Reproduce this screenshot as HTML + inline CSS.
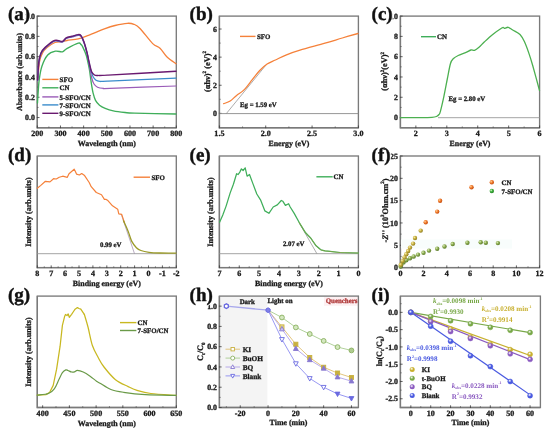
<!DOCTYPE html><html><head><meta charset="utf-8"><style>html,body{margin:0;padding:0;background:#fff;}svg{display:block;will-change:transform;filter:blur(0.25px);}text{text-rendering:geometricPrecision;}</style></head><body>
<svg width="550" height="433" viewBox="0 0 550 433" font-family='"Liberation Serif", serif'>
<rect width="550" height="433" fill="#fff"/>
<rect x="37.3" y="16.1" width="139" height="111.6" fill="none" stroke="#7a7a7a" stroke-width="1.35"/>
<path d="M37.3,16.1 L37.3,127.7 L176.3,127.7" fill="none" stroke="#7a7a7a" stroke-width="1.35"/>
<line x1="37.3" y1="125.5" x2="37.3" y2="128.2" stroke="#3a3a3a" stroke-width="0.8"/>
<text x="37.3" y="136.4" font-size="8.1" text-anchor="middle" fill="#1a1a1a" font-weight="bold" stroke="#1a1a1a" stroke-width="0.3">200</text>
<line x1="60.47" y1="125.5" x2="60.47" y2="128.2" stroke="#3a3a3a" stroke-width="0.8"/>
<text x="60.47" y="136.4" font-size="8.1" text-anchor="middle" fill="#1a1a1a" font-weight="bold" stroke="#1a1a1a" stroke-width="0.3">300</text>
<line x1="83.63" y1="125.5" x2="83.63" y2="128.2" stroke="#3a3a3a" stroke-width="0.8"/>
<text x="83.63" y="136.4" font-size="8.1" text-anchor="middle" fill="#1a1a1a" font-weight="bold" stroke="#1a1a1a" stroke-width="0.3">400</text>
<line x1="106.8" y1="125.5" x2="106.8" y2="128.2" stroke="#3a3a3a" stroke-width="0.8"/>
<text x="106.8" y="136.4" font-size="8.1" text-anchor="middle" fill="#1a1a1a" font-weight="bold" stroke="#1a1a1a" stroke-width="0.3">500</text>
<line x1="129.97" y1="125.5" x2="129.97" y2="128.2" stroke="#3a3a3a" stroke-width="0.8"/>
<text x="129.97" y="136.4" font-size="8.1" text-anchor="middle" fill="#1a1a1a" font-weight="bold" stroke="#1a1a1a" stroke-width="0.3">600</text>
<line x1="153.13" y1="125.5" x2="153.13" y2="128.2" stroke="#3a3a3a" stroke-width="0.8"/>
<text x="153.13" y="136.4" font-size="8.1" text-anchor="middle" fill="#1a1a1a" font-weight="bold" stroke="#1a1a1a" stroke-width="0.3">700</text>
<line x1="176.3" y1="125.5" x2="176.3" y2="128.2" stroke="#3a3a3a" stroke-width="0.8"/>
<text x="176.3" y="136.4" font-size="8.1" text-anchor="middle" fill="#1a1a1a" font-weight="bold" stroke="#1a1a1a" stroke-width="0.3">800</text>
<line x1="48.88" y1="126.4" x2="48.88" y2="127.7" stroke="#3a3a3a" stroke-width="0.6"/>
<line x1="72.05" y1="126.4" x2="72.05" y2="127.7" stroke="#3a3a3a" stroke-width="0.6"/>
<line x1="95.22" y1="126.4" x2="95.22" y2="127.7" stroke="#3a3a3a" stroke-width="0.6"/>
<line x1="118.38" y1="126.4" x2="118.38" y2="127.7" stroke="#3a3a3a" stroke-width="0.6"/>
<line x1="141.55" y1="126.4" x2="141.55" y2="127.7" stroke="#3a3a3a" stroke-width="0.6"/>
<line x1="164.72" y1="126.4" x2="164.72" y2="127.7" stroke="#3a3a3a" stroke-width="0.6"/>
<line x1="36.8" y1="117.55" x2="39.5" y2="117.55" stroke="#3a3a3a" stroke-width="0.8"/>
<text x="34.9" y="120.25" font-size="7.9" text-anchor="end" fill="#1a1a1a" font-weight="bold" stroke="#1a1a1a" stroke-width="0.3">0.0</text>
<line x1="36.8" y1="97.26" x2="39.5" y2="97.26" stroke="#3a3a3a" stroke-width="0.8"/>
<text x="34.9" y="99.96" font-size="7.9" text-anchor="end" fill="#1a1a1a" font-weight="bold" stroke="#1a1a1a" stroke-width="0.3">0.2</text>
<line x1="36.8" y1="76.97" x2="39.5" y2="76.97" stroke="#3a3a3a" stroke-width="0.8"/>
<text x="34.9" y="79.67" font-size="7.9" text-anchor="end" fill="#1a1a1a" font-weight="bold" stroke="#1a1a1a" stroke-width="0.3">0.4</text>
<line x1="36.8" y1="56.68" x2="39.5" y2="56.68" stroke="#3a3a3a" stroke-width="0.8"/>
<text x="34.9" y="59.38" font-size="7.9" text-anchor="end" fill="#1a1a1a" font-weight="bold" stroke="#1a1a1a" stroke-width="0.3">0.6</text>
<line x1="36.8" y1="36.39" x2="39.5" y2="36.39" stroke="#3a3a3a" stroke-width="0.8"/>
<text x="34.9" y="39.09" font-size="7.9" text-anchor="end" fill="#1a1a1a" font-weight="bold" stroke="#1a1a1a" stroke-width="0.3">0.8</text>
<line x1="36.8" y1="16.1" x2="39.5" y2="16.1" stroke="#3a3a3a" stroke-width="0.8"/>
<text x="34.9" y="18.8" font-size="7.9" text-anchor="end" fill="#1a1a1a" font-weight="bold" stroke="#1a1a1a" stroke-width="0.3">1.0</text>
<line x1="37.3" y1="107.41" x2="38.6" y2="107.41" stroke="#3a3a3a" stroke-width="0.6"/>
<line x1="37.3" y1="87.12" x2="38.6" y2="87.12" stroke="#3a3a3a" stroke-width="0.6"/>
<line x1="37.3" y1="66.83" x2="38.6" y2="66.83" stroke="#3a3a3a" stroke-width="0.6"/>
<line x1="37.3" y1="46.54" x2="38.6" y2="46.54" stroke="#3a3a3a" stroke-width="0.6"/>
<line x1="37.3" y1="26.25" x2="38.6" y2="26.25" stroke="#3a3a3a" stroke-width="0.6"/>
<text x="106.8" y="145.5" font-size="7.9" text-anchor="middle" fill="#1a1a1a" font-weight="bold" stroke="#1a1a1a" stroke-width="0.3">Wavelength (nm)</text>
<text x="0" y="0" font-size="7.9" text-anchor="middle" fill="#1a1a1a" stroke="#1a1a1a" stroke-width="0.3" font-weight="bold" transform="translate(21.6,72) rotate(-90)">Absorbance (arb.units)</text>
<path d="M37.8,80 C38.08,77 38.72,66.5 39.5,62 C40.28,57.5 41.25,55.42 42.5,53 C43.75,50.58 44.92,49.25 47,47.5 C49.08,45.75 52.5,43.45 55,42.5 C57.5,41.55 60,42.13 62,41.8 C64,41.47 64.28,41 67,40.5 C69.72,40 74.72,39.67 78.3,38.8 C81.88,37.93 84.15,36.95 88.5,35.3 C92.85,33.65 99.98,30.53 104.4,28.9 C108.82,27.27 111.18,26.43 115,25.5 C118.82,24.57 124.13,23.5 127.3,23.3 C130.47,23.1 131.88,23.43 134,24.3 C136.12,25.17 136.88,25.28 140,28.5 C143.12,31.72 149.37,40.32 152.7,43.6 C156.03,46.88 157.57,45.92 160,48.2 C162.43,50.48 164.63,54.73 167.3,57.3 C169.97,59.87 174.55,62.55 176,63.6" fill="none" stroke="#f5813a" stroke-width="1.3" stroke-linejoin="round" stroke-linecap="round" />
<path d="M37.5,103 C37.57,101.83 37.61,99.93 37.9,96 C38.19,92.07 38.57,84.4 39.25,79.4 C39.93,74.4 40.59,70.07 42,66 C43.41,61.93 45.47,57.47 47.7,55 C49.93,52.53 52.95,51.73 55.4,51.2 C57.85,50.67 60.5,52.23 62.4,51.8 C64.3,51.37 64.15,50.03 66.8,48.6 C69.45,47.17 75.97,43.9 78.3,43.2 C80.63,42.5 80.1,43.85 80.8,44.4 C81.5,44.95 81.58,44.65 82.5,46.5 C83.42,48.35 85.17,51.75 86.3,55.5 C87.43,59.25 88.55,65 89.3,69 C90.05,73 90.42,76.83 90.8,79.5 C91.18,82.17 91.22,82.73 91.6,85 C91.98,87.27 92.45,90.53 93.1,93.1 C93.75,95.67 94.43,98.38 95.5,100.4 C96.57,102.42 97.88,103.87 99.5,105.2 C101.12,106.53 102.9,107.45 105.2,108.4 C107.5,109.35 110,110.22 113.3,110.9 C116.6,111.58 121.47,112.13 125,112.5 C128.53,112.87 126,112.85 134.5,113.1 C143,113.35 169.08,113.85 176,114" fill="none" stroke="#3fae5a" stroke-width="1.35" stroke-linejoin="round" stroke-linecap="round" />
<path d="M37.6,80.7 C37.8,77.7 38.23,67.2 38.8,62.7 C39.37,58.2 39.93,56.13 41,53.7 C42.07,51.27 42.92,50.2 45.2,48.1 C47.48,46 51.83,42.1 54.7,41.1 C57.57,40.1 60.48,42.53 62.4,42.1 C64.32,41.67 64.6,39.35 66.2,38.5 C67.8,37.65 69.98,37.53 72,37 C74.02,36.47 76.8,35.42 78.3,35.3 C79.8,35.18 80.05,35.07 81,36.3 C81.95,37.53 83,39.88 84,42.7 C85,45.52 86.12,49.57 87,53.2 C87.88,56.83 88.72,61.37 89.3,64.5 C89.88,67.63 90.05,69.58 90.5,72 C90.95,74.42 91.42,77 92,79 C92.58,81 93.08,82.63 94,84 C94.92,85.37 95.9,86.47 97.5,87.2 C99.1,87.93 101.52,88.22 103.6,88.4 C105.68,88.58 97.93,88.7 110,88.3 C122.07,87.9 165,86.38 176,86" fill="none" stroke="#9a5cb8" stroke-width="1.25" stroke-linejoin="round" stroke-linecap="round" />
<path d="M37.6,80.35 C37.8,77.35 38.23,66.85 38.8,62.35 C39.37,57.85 39.93,55.78 41,53.35 C42.07,50.92 42.92,49.85 45.2,47.75 C47.48,45.65 51.83,41.75 54.7,40.75 C57.57,39.75 60.48,42.18 62.4,41.75 C64.32,41.32 64.6,39 66.2,38.15 C67.8,37.3 69.98,37.18 72,36.65 C74.02,36.12 76.8,35.07 78.3,34.95 C79.8,34.83 80.05,34.72 81,35.95 C81.95,37.18 83,39.53 84,42.35 C85,45.17 86.12,49.24 87,52.85 C87.88,56.46 88.63,61.06 89.3,64 C89.97,66.94 90.38,68.42 91,70.5 C91.62,72.58 92.17,74.87 93,76.5 C93.83,78.13 94.83,79.5 96,80.3 C97.17,81.1 98,81.15 100,81.3 C102,81.45 95.33,81.72 108,81.2 C120.67,80.68 164.67,78.7 176,78.2" fill="none" stroke="#3a8ccc" stroke-width="1.25" stroke-linejoin="round" stroke-linecap="round" />
<path d="M37.6,80 C37.8,77 38.23,66.5 38.8,62 C39.37,57.5 39.93,55.43 41,53 C42.07,50.57 42.92,49.5 45.2,47.4 C47.48,45.3 51.83,41.4 54.7,40.4 C57.57,39.4 60.48,41.83 62.4,41.4 C64.32,40.97 64.6,38.65 66.2,37.8 C67.8,36.95 69.98,36.83 72,36.3 C74.02,35.77 76.8,34.72 78.3,34.6 C79.8,34.48 80.05,34.37 81,35.6 C81.95,36.83 83,39.18 84,42 C85,44.82 86.12,49 87,52.5 C87.88,56 88.55,59.83 89.3,63 C90.05,66.17 90.63,69.5 91.5,71.5 C92.37,73.5 93.42,74.33 94.5,75 C95.58,75.67 95.75,75.48 98,75.5 C100.25,75.52 95,75.8 108,75.1 C121,74.4 164.67,71.93 176,71.3" fill="none" stroke="#6a1a70" stroke-width="1.45" stroke-linejoin="round" stroke-linecap="round" />
<line x1="42.3" y1="79.4" x2="58.4" y2="79.4" stroke="#f5813a" stroke-width="1.4"/>
<text x="59.6" y="82" font-size="6.9" text-anchor="start" fill="#1a1a1a" font-weight="bold" stroke="#1a1a1a" stroke-width="0.3">SFO</text>
<line x1="42.3" y1="87.8" x2="58.4" y2="87.8" stroke="#3fae5a" stroke-width="1.4"/>
<text x="59.6" y="90.4" font-size="6.9" text-anchor="start" fill="#1a1a1a" font-weight="bold" stroke="#1a1a1a" stroke-width="0.3">CN</text>
<line x1="42.3" y1="96.9" x2="58.4" y2="96.9" stroke="#9a5cb8" stroke-width="1.4"/>
<text x="59.6" y="99.5" font-size="6.9" text-anchor="start" fill="#1a1a1a" font-weight="bold" stroke="#1a1a1a" stroke-width="0.3">5-SFO/CN</text>
<line x1="42.3" y1="104.9" x2="58.4" y2="104.9" stroke="#3a8ccc" stroke-width="1.4"/>
<text x="59.6" y="107.5" font-size="6.9" text-anchor="start" fill="#1a1a1a" font-weight="bold" stroke="#1a1a1a" stroke-width="0.3">7-SFO/CN</text>
<line x1="42.3" y1="113.3" x2="58.4" y2="113.3" stroke="#6a1a70" stroke-width="1.4"/>
<text x="59.6" y="115.9" font-size="6.9" text-anchor="start" fill="#1a1a1a" font-weight="bold" stroke="#1a1a1a" stroke-width="0.3">9-SFO/CN</text>
<text x="8" y="20.2" font-size="19" fill="#fff" font-weight="bold" stroke="#fff" stroke-width="2.2">(a)</text>
<text x="8" y="20.2" font-size="19" text-anchor="start" fill="#111" font-weight="bold" stroke="#111" stroke-width="0.4">(a)</text>
<rect x="219.4" y="16.1" width="139" height="111.6" fill="none" stroke="#7a7a7a" stroke-width="1.35"/>
<path d="M219.4,16.1 L219.4,127.7 L358.4,127.7" fill="none" stroke="#7a7a7a" stroke-width="1.35"/>
<line x1="219.4" y1="125.5" x2="219.4" y2="128.2" stroke="#3a3a3a" stroke-width="0.8"/>
<text x="219.4" y="136.4" font-size="8.1" text-anchor="middle" fill="#1a1a1a" font-weight="bold" stroke="#1a1a1a" stroke-width="0.3">1.5</text>
<line x1="265.73" y1="125.5" x2="265.73" y2="128.2" stroke="#3a3a3a" stroke-width="0.8"/>
<text x="265.73" y="136.4" font-size="8.1" text-anchor="middle" fill="#1a1a1a" font-weight="bold" stroke="#1a1a1a" stroke-width="0.3">2.0</text>
<line x1="312.07" y1="125.5" x2="312.07" y2="128.2" stroke="#3a3a3a" stroke-width="0.8"/>
<text x="312.07" y="136.4" font-size="8.1" text-anchor="middle" fill="#1a1a1a" font-weight="bold" stroke="#1a1a1a" stroke-width="0.3">2.5</text>
<line x1="358.4" y1="125.5" x2="358.4" y2="128.2" stroke="#3a3a3a" stroke-width="0.8"/>
<text x="358.4" y="136.4" font-size="8.1" text-anchor="middle" fill="#1a1a1a" font-weight="bold" stroke="#1a1a1a" stroke-width="0.3">3.0</text>
<line x1="242.57" y1="126.4" x2="242.57" y2="127.7" stroke="#3a3a3a" stroke-width="0.6"/>
<line x1="288.9" y1="126.4" x2="288.9" y2="127.7" stroke="#3a3a3a" stroke-width="0.6"/>
<line x1="335.23" y1="126.4" x2="335.23" y2="127.7" stroke="#3a3a3a" stroke-width="0.6"/>
<line x1="218.9" y1="113.36" x2="221.6" y2="113.36" stroke="#3a3a3a" stroke-width="0.8"/>
<text x="217" y="116.06" font-size="7.9" text-anchor="end" fill="#1a1a1a" font-weight="bold" stroke="#1a1a1a" stroke-width="0.3">0</text>
<line x1="218.9" y1="85.25" x2="221.6" y2="85.25" stroke="#3a3a3a" stroke-width="0.8"/>
<text x="217" y="87.95" font-size="7.9" text-anchor="end" fill="#1a1a1a" font-weight="bold" stroke="#1a1a1a" stroke-width="0.3">2</text>
<line x1="218.9" y1="57.14" x2="221.6" y2="57.14" stroke="#3a3a3a" stroke-width="0.8"/>
<text x="217" y="59.84" font-size="7.9" text-anchor="end" fill="#1a1a1a" font-weight="bold" stroke="#1a1a1a" stroke-width="0.3">4</text>
<line x1="218.9" y1="29.03" x2="221.6" y2="29.03" stroke="#3a3a3a" stroke-width="0.8"/>
<text x="217" y="31.73" font-size="7.9" text-anchor="end" fill="#1a1a1a" font-weight="bold" stroke="#1a1a1a" stroke-width="0.3">6</text>
<line x1="219.4" y1="99.31" x2="220.7" y2="99.31" stroke="#3a3a3a" stroke-width="0.6"/>
<line x1="219.4" y1="71.2" x2="220.7" y2="71.2" stroke="#3a3a3a" stroke-width="0.6"/>
<line x1="219.4" y1="43.09" x2="220.7" y2="43.09" stroke="#3a3a3a" stroke-width="0.6"/>
<text x="288.9" y="145.5" font-size="7.9" text-anchor="middle" fill="#1a1a1a" font-weight="bold" stroke="#1a1a1a" stroke-width="0.3">Energy (eV)</text>
<text x="0" y="0" font-size="8.4" text-anchor="middle" fill="#1a1a1a" stroke="#1a1a1a" stroke-width="0.3" font-weight="bold" transform="translate(209.5,71.5) rotate(-90)">(αhν)<tspan font-size="5" dy="-3.3">2</tspan><tspan dy="3.3"> (eV)</tspan><tspan font-size="5" dy="-3.3">2</tspan></text>
<line x1="219.4" y1="113.6" x2="358.4" y2="113.6" stroke="#8a8a8a" stroke-width="0.9"/>
<line x1="226.3" y1="113.6" x2="266" y2="65" stroke="#8a8a8a" stroke-width="0.7"/>
<path d="M223.7,103.7 C224.78,103.25 228.05,102.38 230.2,101 C232.35,99.62 234.3,97.25 236.6,95.4 C238.9,93.55 241.38,92.52 244,89.9 C246.62,87.28 249.68,82.93 252.3,79.7 C254.92,76.47 257.23,73.12 259.7,70.5 C262.17,67.88 264.48,65.75 267.1,64 C269.72,62.25 272.17,61.53 275.4,60 C278.63,58.47 282.4,56.43 286.5,54.8 C290.6,53.17 293.58,52.13 300,50.2 C306.42,48.27 317.95,45.23 325,43.2 C332.05,41.17 336.8,39.62 342.3,38 C347.8,36.38 355.38,34.25 358,33.5" fill="none" stroke="#f5813a" stroke-width="1.3" stroke-linejoin="round" stroke-linecap="round" />
<line x1="240" y1="36.4" x2="255.5" y2="36.4" stroke="#f5813a" stroke-width="1.4"/>
<text x="257" y="38.9" font-size="6.9" text-anchor="start" fill="#1a1a1a" font-weight="bold" stroke="#1a1a1a" stroke-width="0.3">SFO</text>
<text x="240" y="107.2" font-size="6.8" text-anchor="start" fill="#1a1a1a" font-weight="bold" stroke="#1a1a1a" stroke-width="0.3">Eg = 1.59 eV</text>
<text x="189.6" y="20.2" font-size="19" fill="#fff" font-weight="bold" stroke="#fff" stroke-width="2.2">(b)</text>
<text x="189.6" y="20.2" font-size="19" text-anchor="start" fill="#111" font-weight="bold" stroke="#111" stroke-width="0.4">(b)</text>
<rect x="400.4" y="16.1" width="139.2" height="111.6" fill="none" stroke="#7a7a7a" stroke-width="1.35"/>
<path d="M400.4,16.1 L400.4,127.7 L539.6,127.7" fill="none" stroke="#7a7a7a" stroke-width="1.35"/>
<line x1="415.87" y1="125.5" x2="415.87" y2="128.2" stroke="#3a3a3a" stroke-width="0.8"/>
<text x="415.87" y="136.4" font-size="8.1" text-anchor="middle" fill="#1a1a1a" font-weight="bold" stroke="#1a1a1a" stroke-width="0.3">2</text>
<line x1="446.8" y1="125.5" x2="446.8" y2="128.2" stroke="#3a3a3a" stroke-width="0.8"/>
<text x="446.8" y="136.4" font-size="8.1" text-anchor="middle" fill="#1a1a1a" font-weight="bold" stroke="#1a1a1a" stroke-width="0.3">3</text>
<line x1="477.73" y1="125.5" x2="477.73" y2="128.2" stroke="#3a3a3a" stroke-width="0.8"/>
<text x="477.73" y="136.4" font-size="8.1" text-anchor="middle" fill="#1a1a1a" font-weight="bold" stroke="#1a1a1a" stroke-width="0.3">4</text>
<line x1="508.67" y1="125.5" x2="508.67" y2="128.2" stroke="#3a3a3a" stroke-width="0.8"/>
<text x="508.67" y="136.4" font-size="8.1" text-anchor="middle" fill="#1a1a1a" font-weight="bold" stroke="#1a1a1a" stroke-width="0.3">5</text>
<line x1="539.6" y1="125.5" x2="539.6" y2="128.2" stroke="#3a3a3a" stroke-width="0.8"/>
<text x="539.6" y="136.4" font-size="8.1" text-anchor="middle" fill="#1a1a1a" font-weight="bold" stroke="#1a1a1a" stroke-width="0.3">6</text>
<line x1="431.33" y1="126.4" x2="431.33" y2="127.7" stroke="#3a3a3a" stroke-width="0.6"/>
<line x1="462.27" y1="126.4" x2="462.27" y2="127.7" stroke="#3a3a3a" stroke-width="0.6"/>
<line x1="493.2" y1="126.4" x2="493.2" y2="127.7" stroke="#3a3a3a" stroke-width="0.6"/>
<line x1="524.13" y1="126.4" x2="524.13" y2="127.7" stroke="#3a3a3a" stroke-width="0.6"/>
<line x1="399.9" y1="117.55" x2="402.6" y2="117.55" stroke="#3a3a3a" stroke-width="0.8"/>
<text x="398" y="120.25" font-size="7.9" text-anchor="end" fill="#1a1a1a" font-weight="bold" stroke="#1a1a1a" stroke-width="0.3">0</text>
<line x1="399.9" y1="97.26" x2="402.6" y2="97.26" stroke="#3a3a3a" stroke-width="0.8"/>
<text x="398" y="99.96" font-size="7.9" text-anchor="end" fill="#1a1a1a" font-weight="bold" stroke="#1a1a1a" stroke-width="0.3">2</text>
<line x1="399.9" y1="76.97" x2="402.6" y2="76.97" stroke="#3a3a3a" stroke-width="0.8"/>
<text x="398" y="79.67" font-size="7.9" text-anchor="end" fill="#1a1a1a" font-weight="bold" stroke="#1a1a1a" stroke-width="0.3">4</text>
<line x1="399.9" y1="56.68" x2="402.6" y2="56.68" stroke="#3a3a3a" stroke-width="0.8"/>
<text x="398" y="59.38" font-size="7.9" text-anchor="end" fill="#1a1a1a" font-weight="bold" stroke="#1a1a1a" stroke-width="0.3">6</text>
<line x1="399.9" y1="36.39" x2="402.6" y2="36.39" stroke="#3a3a3a" stroke-width="0.8"/>
<text x="398" y="39.09" font-size="7.9" text-anchor="end" fill="#1a1a1a" font-weight="bold" stroke="#1a1a1a" stroke-width="0.3">8</text>
<line x1="399.9" y1="16.1" x2="402.6" y2="16.1" stroke="#3a3a3a" stroke-width="0.8"/>
<text x="398" y="18.8" font-size="7.9" text-anchor="end" fill="#1a1a1a" font-weight="bold" stroke="#1a1a1a" stroke-width="0.3">10</text>
<line x1="400.4" y1="107.41" x2="401.7" y2="107.41" stroke="#3a3a3a" stroke-width="0.6"/>
<line x1="400.4" y1="87.12" x2="401.7" y2="87.12" stroke="#3a3a3a" stroke-width="0.6"/>
<line x1="400.4" y1="66.83" x2="401.7" y2="66.83" stroke="#3a3a3a" stroke-width="0.6"/>
<line x1="400.4" y1="46.54" x2="401.7" y2="46.54" stroke="#3a3a3a" stroke-width="0.6"/>
<line x1="400.4" y1="26.25" x2="401.7" y2="26.25" stroke="#3a3a3a" stroke-width="0.6"/>
<text x="470" y="145.5" font-size="7.9" text-anchor="middle" fill="#1a1a1a" font-weight="bold" stroke="#1a1a1a" stroke-width="0.3">Energy (eV)</text>
<text x="0" y="0" font-size="8.3" text-anchor="middle" fill="#1a1a1a" stroke="#1a1a1a" stroke-width="0.3" font-weight="bold" transform="translate(387,71.3) rotate(-90)">(αhν)<tspan font-size="5" dy="-3.5">2</tspan><tspan dy="3.5">(eV)</tspan><tspan font-size="5" dy="-3.5">2</tspan></text>
<line x1="438" y1="117.7" x2="539.6" y2="117.7" stroke="#9a9a9a" stroke-width="0.9"/>
<path d="M400.4,117.7 C403.67,117.7 414.73,117.75 420,117.7 C425.27,117.65 429.25,117.6 432,117.4 C434.75,117.2 435.33,116.98 436.5,116.5 C437.67,116.02 438.35,115.37 439,114.5 C439.65,113.63 439.58,114.33 440.4,111.3 C441.22,108.27 442.75,101.68 443.9,96.3 C445.05,90.92 446.2,84.47 447.3,79 C448.4,73.53 449.47,66.92 450.5,63.5 C451.53,60.08 452.22,59.83 453.5,58.5 C454.78,57.17 456.2,56.47 458.2,55.5 C460.2,54.53 463.38,53.62 465.5,52.7 C467.62,51.78 469.4,50.4 470.9,50 C472.4,49.6 473.15,50.75 474.5,50.3 C475.85,49.85 477.33,48.72 479,47.3 C480.67,45.88 482.22,43.93 484.5,41.8 C486.78,39.67 489.82,36.8 492.7,34.5 C495.58,32.2 500,29.15 501.8,28 C503.6,26.85 502.97,27.55 503.5,27.6 C504.03,27.65 504.22,28.35 505,28.3 C505.78,28.25 506.92,27.02 508.2,27.3 C509.48,27.58 510.73,28.8 512.7,30 C514.67,31.2 518.03,32.53 520,34.5 C521.97,36.47 523,38.62 524.5,41.8 C526,44.98 527.63,49.65 529,53.6 C530.37,57.55 530.95,59.35 532.7,65.5 C534.45,71.65 538.37,86.33 539.5,90.5" fill="none" stroke="#4cb050" stroke-width="1.3" stroke-linejoin="round" stroke-linecap="round" />
<line x1="421" y1="36.7" x2="436" y2="36.7" stroke="#3fae5a" stroke-width="1.4"/>
<text x="437" y="39.3" font-size="6.9" text-anchor="start" fill="#1a1a1a" font-weight="bold" stroke="#1a1a1a" stroke-width="0.3">CN</text>
<text x="448.5" y="101.2" font-size="6.8" text-anchor="start" fill="#1a1a1a" font-weight="bold" stroke="#1a1a1a" stroke-width="0.3">Eg = 2.80 eV</text>
<text x="371.6" y="20.2" font-size="19" fill="#fff" font-weight="bold" stroke="#fff" stroke-width="2.2">(c)</text>
<text x="371.6" y="20.2" font-size="19" text-anchor="start" fill="#111" font-weight="bold" stroke="#111" stroke-width="0.4">(c)</text>
<rect x="37.3" y="156" width="139" height="111.6" fill="none" stroke="#7a7a7a" stroke-width="1.35"/>
<path d="M37.3,156 L37.3,267.6 L176.3,267.6" fill="none" stroke="#7a7a7a" stroke-width="1.35"/>
<line x1="37.3" y1="265.4" x2="37.3" y2="268.1" stroke="#3a3a3a" stroke-width="0.8"/>
<text x="37.3" y="276.3" font-size="8.1" text-anchor="middle" fill="#1a1a1a" font-weight="bold" stroke="#1a1a1a" stroke-width="0.3">8</text>
<line x1="51.2" y1="265.4" x2="51.2" y2="268.1" stroke="#3a3a3a" stroke-width="0.8"/>
<text x="51.2" y="276.3" font-size="8.1" text-anchor="middle" fill="#1a1a1a" font-weight="bold" stroke="#1a1a1a" stroke-width="0.3">7</text>
<line x1="65.1" y1="265.4" x2="65.1" y2="268.1" stroke="#3a3a3a" stroke-width="0.8"/>
<text x="65.1" y="276.3" font-size="8.1" text-anchor="middle" fill="#1a1a1a" font-weight="bold" stroke="#1a1a1a" stroke-width="0.3">6</text>
<line x1="79" y1="265.4" x2="79" y2="268.1" stroke="#3a3a3a" stroke-width="0.8"/>
<text x="79" y="276.3" font-size="8.1" text-anchor="middle" fill="#1a1a1a" font-weight="bold" stroke="#1a1a1a" stroke-width="0.3">5</text>
<line x1="92.9" y1="265.4" x2="92.9" y2="268.1" stroke="#3a3a3a" stroke-width="0.8"/>
<text x="92.9" y="276.3" font-size="8.1" text-anchor="middle" fill="#1a1a1a" font-weight="bold" stroke="#1a1a1a" stroke-width="0.3">4</text>
<line x1="106.8" y1="265.4" x2="106.8" y2="268.1" stroke="#3a3a3a" stroke-width="0.8"/>
<text x="106.8" y="276.3" font-size="8.1" text-anchor="middle" fill="#1a1a1a" font-weight="bold" stroke="#1a1a1a" stroke-width="0.3">3</text>
<line x1="120.7" y1="265.4" x2="120.7" y2="268.1" stroke="#3a3a3a" stroke-width="0.8"/>
<text x="120.7" y="276.3" font-size="8.1" text-anchor="middle" fill="#1a1a1a" font-weight="bold" stroke="#1a1a1a" stroke-width="0.3">2</text>
<line x1="134.6" y1="265.4" x2="134.6" y2="268.1" stroke="#3a3a3a" stroke-width="0.8"/>
<text x="134.6" y="276.3" font-size="8.1" text-anchor="middle" fill="#1a1a1a" font-weight="bold" stroke="#1a1a1a" stroke-width="0.3">1</text>
<line x1="148.5" y1="265.4" x2="148.5" y2="268.1" stroke="#3a3a3a" stroke-width="0.8"/>
<text x="148.5" y="276.3" font-size="8.1" text-anchor="middle" fill="#1a1a1a" font-weight="bold" stroke="#1a1a1a" stroke-width="0.3">0</text>
<line x1="162.4" y1="265.4" x2="162.4" y2="268.1" stroke="#3a3a3a" stroke-width="0.8"/>
<text x="162.4" y="276.3" font-size="8.1" text-anchor="middle" fill="#1a1a1a" font-weight="bold" stroke="#1a1a1a" stroke-width="0.3">-1</text>
<line x1="176.3" y1="265.4" x2="176.3" y2="268.1" stroke="#3a3a3a" stroke-width="0.8"/>
<text x="176.3" y="276.3" font-size="8.1" text-anchor="middle" fill="#1a1a1a" font-weight="bold" stroke="#1a1a1a" stroke-width="0.3">-2</text>
<line x1="44.25" y1="266.3" x2="44.25" y2="267.6" stroke="#3a3a3a" stroke-width="0.6"/>
<line x1="58.15" y1="266.3" x2="58.15" y2="267.6" stroke="#3a3a3a" stroke-width="0.6"/>
<line x1="72.05" y1="266.3" x2="72.05" y2="267.6" stroke="#3a3a3a" stroke-width="0.6"/>
<line x1="85.95" y1="266.3" x2="85.95" y2="267.6" stroke="#3a3a3a" stroke-width="0.6"/>
<line x1="99.85" y1="266.3" x2="99.85" y2="267.6" stroke="#3a3a3a" stroke-width="0.6"/>
<line x1="113.75" y1="266.3" x2="113.75" y2="267.6" stroke="#3a3a3a" stroke-width="0.6"/>
<line x1="127.65" y1="266.3" x2="127.65" y2="267.6" stroke="#3a3a3a" stroke-width="0.6"/>
<line x1="141.55" y1="266.3" x2="141.55" y2="267.6" stroke="#3a3a3a" stroke-width="0.6"/>
<line x1="155.45" y1="266.3" x2="155.45" y2="267.6" stroke="#3a3a3a" stroke-width="0.6"/>
<line x1="169.35" y1="266.3" x2="169.35" y2="267.6" stroke="#3a3a3a" stroke-width="0.6"/>
<text x="106.8" y="285.5" font-size="7.9" text-anchor="middle" fill="#1a1a1a" font-weight="bold" stroke="#1a1a1a" stroke-width="0.3">Binding energy (eV)</text>
<text x="0" y="0" font-size="8.1" text-anchor="middle" fill="#1a1a1a" stroke="#1a1a1a" stroke-width="0.3" font-weight="bold" transform="translate(30.5,212) rotate(-90)">Intensity (arb.units)</text>
<line x1="37.3" y1="253.7" x2="176.3" y2="253.7" stroke="#9a9a9a" stroke-width="0.9"/>
<line x1="134.5" y1="253.7" x2="121.5" y2="215" stroke="#9c8aa8" stroke-width="0.7"/>
<path d="M37.3,188.3 L40.8,185.4 L45.4,181.3 L50,181.9 L53.5,178.7 L56.3,179 L59.2,177.3 L62.7,176.2 L67.3,177.3 L69,173.8 L74.2,169.2 L75.4,171.5 L76.5,174.1 L79.4,175 L81.7,173.5 L84.6,175.6 L89.2,182.5 L91.2,186.7 L96.3,192.5 L101.5,194.8 L104.4,199.4 L106.2,199.4 L107.9,200.6 L112.5,205.8 L117.7,209.2 L118.8,213.8 L121.7,214.4 L124.6,223.1" fill="none" stroke="#f5813a" stroke-width="1.2" stroke-linejoin="round" stroke-linecap="round" />
<path d="M123.5,220.8 C124.28,222.57 126.82,227.97 128.2,231.4 C129.58,234.83 130.43,238.68 131.8,241.4 C133.17,244.12 134.88,246.18 136.4,247.7 C137.92,249.22 138.78,249.73 140.9,250.5 C143.02,251.27 145.92,251.88 149.1,252.3 C152.28,252.72 155.52,252.85 160,253 C164.48,253.15 173.33,253.17 176,253.2" fill="none" stroke="#9a9a28" stroke-width="1.3" stroke-linejoin="round" stroke-linecap="round" />
<line x1="133.6" y1="177.2" x2="150" y2="177.2" stroke="#f5813a" stroke-width="1.4"/>
<text x="151.5" y="179.8" font-size="6.9" text-anchor="start" fill="#1a1a1a" font-weight="bold" stroke="#1a1a1a" stroke-width="0.3">SFO</text>
<text x="100" y="246.5" font-size="6.8" text-anchor="start" fill="#1a1a1a" font-weight="bold" stroke="#1a1a1a" stroke-width="0.3">0.99 eV</text>
<text x="8" y="160.6" font-size="19" fill="#fff" font-weight="bold" stroke="#fff" stroke-width="2.2">(d)</text>
<text x="8" y="160.6" font-size="19" text-anchor="start" fill="#111" font-weight="bold" stroke="#111" stroke-width="0.4">(d)</text>
<rect x="219.4" y="156" width="139" height="111.6" fill="none" stroke="#7a7a7a" stroke-width="1.35"/>
<path d="M219.4,156 L219.4,267.6 L358.4,267.6" fill="none" stroke="#7a7a7a" stroke-width="1.35"/>
<line x1="219.4" y1="265.4" x2="219.4" y2="268.1" stroke="#3a3a3a" stroke-width="0.8"/>
<text x="219.4" y="276.3" font-size="8.1" text-anchor="middle" fill="#1a1a1a" font-weight="bold" stroke="#1a1a1a" stroke-width="0.3">7</text>
<line x1="239.26" y1="265.4" x2="239.26" y2="268.1" stroke="#3a3a3a" stroke-width="0.8"/>
<text x="239.26" y="276.3" font-size="8.1" text-anchor="middle" fill="#1a1a1a" font-weight="bold" stroke="#1a1a1a" stroke-width="0.3">6</text>
<line x1="259.11" y1="265.4" x2="259.11" y2="268.1" stroke="#3a3a3a" stroke-width="0.8"/>
<text x="259.11" y="276.3" font-size="8.1" text-anchor="middle" fill="#1a1a1a" font-weight="bold" stroke="#1a1a1a" stroke-width="0.3">5</text>
<line x1="278.97" y1="265.4" x2="278.97" y2="268.1" stroke="#3a3a3a" stroke-width="0.8"/>
<text x="278.97" y="276.3" font-size="8.1" text-anchor="middle" fill="#1a1a1a" font-weight="bold" stroke="#1a1a1a" stroke-width="0.3">4</text>
<line x1="298.83" y1="265.4" x2="298.83" y2="268.1" stroke="#3a3a3a" stroke-width="0.8"/>
<text x="298.83" y="276.3" font-size="8.1" text-anchor="middle" fill="#1a1a1a" font-weight="bold" stroke="#1a1a1a" stroke-width="0.3">3</text>
<line x1="318.69" y1="265.4" x2="318.69" y2="268.1" stroke="#3a3a3a" stroke-width="0.8"/>
<text x="318.69" y="276.3" font-size="8.1" text-anchor="middle" fill="#1a1a1a" font-weight="bold" stroke="#1a1a1a" stroke-width="0.3">2</text>
<line x1="338.54" y1="265.4" x2="338.54" y2="268.1" stroke="#3a3a3a" stroke-width="0.8"/>
<text x="338.54" y="276.3" font-size="8.1" text-anchor="middle" fill="#1a1a1a" font-weight="bold" stroke="#1a1a1a" stroke-width="0.3">1</text>
<line x1="358.4" y1="265.4" x2="358.4" y2="268.1" stroke="#3a3a3a" stroke-width="0.8"/>
<text x="358.4" y="276.3" font-size="8.1" text-anchor="middle" fill="#1a1a1a" font-weight="bold" stroke="#1a1a1a" stroke-width="0.3">0</text>
<line x1="229.33" y1="266.3" x2="229.33" y2="267.6" stroke="#3a3a3a" stroke-width="0.6"/>
<line x1="249.19" y1="266.3" x2="249.19" y2="267.6" stroke="#3a3a3a" stroke-width="0.6"/>
<line x1="269.04" y1="266.3" x2="269.04" y2="267.6" stroke="#3a3a3a" stroke-width="0.6"/>
<line x1="288.9" y1="266.3" x2="288.9" y2="267.6" stroke="#3a3a3a" stroke-width="0.6"/>
<line x1="308.76" y1="266.3" x2="308.76" y2="267.6" stroke="#3a3a3a" stroke-width="0.6"/>
<line x1="328.61" y1="266.3" x2="328.61" y2="267.6" stroke="#3a3a3a" stroke-width="0.6"/>
<line x1="348.47" y1="266.3" x2="348.47" y2="267.6" stroke="#3a3a3a" stroke-width="0.6"/>
<text x="288.9" y="285.5" font-size="7.9" text-anchor="middle" fill="#1a1a1a" font-weight="bold" stroke="#1a1a1a" stroke-width="0.3">Binding energy (eV)</text>
<text x="0" y="0" font-size="8.1" text-anchor="middle" fill="#1a1a1a" stroke="#1a1a1a" stroke-width="0.3" font-weight="bold" transform="translate(213.2,212) rotate(-90)">Intensity (arb.units)</text>
<line x1="219.4" y1="253.7" x2="358.4" y2="253.7" stroke="#9a9a9a" stroke-width="0.9"/>
<line x1="316.9" y1="253.7" x2="299.9" y2="224" stroke="#8a8a8a" stroke-width="0.7"/>
<path d="M219.6,222.2 L222.8,215 L226.1,206.1 L230.1,193.1 L233.4,184.2 L236.6,173.7 L238.2,174.5 L239.8,172.1 L241.4,168.9 L243.1,170.5 L245.2,167.8 L247.1,176.2 L249.5,174.5 L252.8,183.4 L256.8,194 L260.8,200.4 L264.9,210.9 L268.9,213.3 L273.2,207 L277.3,204.9 L281.3,200.5 L282.9,201.3 L285.4,205.4 L288.6,203.7 L290.2,207 L294.2,213.4 L299.1,222.3 L305.6,232.8 L310.4,237.7 L316.1,245.8 L320.9,249.8 L325,250.9 L330,251.4 L340,252.5 L358.4,253" fill="none" stroke="#3fae5a" stroke-width="1.25" stroke-linejoin="round" stroke-linecap="round" />
<path d="M299.1,222.3 C300.18,224.05 303.72,230.23 305.6,232.8 C307.48,235.37 308.65,235.53 310.4,237.7 C312.15,239.87 314.35,243.78 316.1,245.8 C317.85,247.82 319.42,248.95 320.9,249.8 C322.38,250.65 323.48,250.63 325,250.9 C326.52,251.17 327.5,251.13 330,251.4 C332.5,251.67 335.27,252.23 340,252.5 C344.73,252.77 355.33,252.92 358.4,253" fill="none" stroke="#8aa040" stroke-width="0.9" stroke-linejoin="round" stroke-linecap="round" opacity="0.8"/>
<line x1="316.4" y1="176.8" x2="332.7" y2="176.8" stroke="#3fae5a" stroke-width="1.4"/>
<text x="333.5" y="179.4" font-size="6.9" text-anchor="start" fill="#1a1a1a" font-weight="bold" stroke="#1a1a1a" stroke-width="0.3">CN</text>
<text x="282.9" y="246" font-size="6.8" text-anchor="start" fill="#1a1a1a" font-weight="bold" stroke="#1a1a1a" stroke-width="0.3">2.07 eV</text>
<text x="189.6" y="160.6" font-size="19" fill="#fff" font-weight="bold" stroke="#fff" stroke-width="2.2">(e)</text>
<text x="189.6" y="160.6" font-size="19" text-anchor="start" fill="#111" font-weight="bold" stroke="#111" stroke-width="0.4">(e)</text>
<rect x="400.4" y="156" width="139.2" height="111.6" fill="none" stroke="#7a7a7a" stroke-width="1.35"/>
<path d="M400.4,156 L400.4,267.6 L539.6,267.6" fill="none" stroke="#7a7a7a" stroke-width="1.35"/>
<line x1="400.4" y1="265.4" x2="400.4" y2="268.1" stroke="#3a3a3a" stroke-width="0.8"/>
<text x="400.4" y="276.3" font-size="8.1" text-anchor="middle" fill="#1a1a1a" font-weight="bold" stroke="#1a1a1a" stroke-width="0.3">0</text>
<line x1="423.6" y1="265.4" x2="423.6" y2="268.1" stroke="#3a3a3a" stroke-width="0.8"/>
<text x="423.6" y="276.3" font-size="8.1" text-anchor="middle" fill="#1a1a1a" font-weight="bold" stroke="#1a1a1a" stroke-width="0.3">2</text>
<line x1="446.8" y1="265.4" x2="446.8" y2="268.1" stroke="#3a3a3a" stroke-width="0.8"/>
<text x="446.8" y="276.3" font-size="8.1" text-anchor="middle" fill="#1a1a1a" font-weight="bold" stroke="#1a1a1a" stroke-width="0.3">4</text>
<line x1="470" y1="265.4" x2="470" y2="268.1" stroke="#3a3a3a" stroke-width="0.8"/>
<text x="470" y="276.3" font-size="8.1" text-anchor="middle" fill="#1a1a1a" font-weight="bold" stroke="#1a1a1a" stroke-width="0.3">6</text>
<line x1="493.2" y1="265.4" x2="493.2" y2="268.1" stroke="#3a3a3a" stroke-width="0.8"/>
<text x="493.2" y="276.3" font-size="8.1" text-anchor="middle" fill="#1a1a1a" font-weight="bold" stroke="#1a1a1a" stroke-width="0.3">8</text>
<line x1="516.4" y1="265.4" x2="516.4" y2="268.1" stroke="#3a3a3a" stroke-width="0.8"/>
<text x="516.4" y="276.3" font-size="8.1" text-anchor="middle" fill="#1a1a1a" font-weight="bold" stroke="#1a1a1a" stroke-width="0.3">10</text>
<line x1="539.6" y1="265.4" x2="539.6" y2="268.1" stroke="#3a3a3a" stroke-width="0.8"/>
<text x="539.6" y="276.3" font-size="8.1" text-anchor="middle" fill="#1a1a1a" font-weight="bold" stroke="#1a1a1a" stroke-width="0.3">12</text>
<line x1="412" y1="266.3" x2="412" y2="267.6" stroke="#3a3a3a" stroke-width="0.6"/>
<line x1="435.2" y1="266.3" x2="435.2" y2="267.6" stroke="#3a3a3a" stroke-width="0.6"/>
<line x1="458.4" y1="266.3" x2="458.4" y2="267.6" stroke="#3a3a3a" stroke-width="0.6"/>
<line x1="481.6" y1="266.3" x2="481.6" y2="267.6" stroke="#3a3a3a" stroke-width="0.6"/>
<line x1="504.8" y1="266.3" x2="504.8" y2="267.6" stroke="#3a3a3a" stroke-width="0.6"/>
<line x1="528" y1="266.3" x2="528" y2="267.6" stroke="#3a3a3a" stroke-width="0.6"/>
<line x1="399.9" y1="267.6" x2="402.6" y2="267.6" stroke="#3a3a3a" stroke-width="0.8"/>
<text x="398" y="270.3" font-size="7.9" text-anchor="end" fill="#1a1a1a" font-weight="bold" stroke="#1a1a1a" stroke-width="0.3">0</text>
<line x1="399.9" y1="245.28" x2="402.6" y2="245.28" stroke="#3a3a3a" stroke-width="0.8"/>
<text x="398" y="247.98" font-size="7.9" text-anchor="end" fill="#1a1a1a" font-weight="bold" stroke="#1a1a1a" stroke-width="0.3">5</text>
<line x1="399.9" y1="222.96" x2="402.6" y2="222.96" stroke="#3a3a3a" stroke-width="0.8"/>
<text x="398" y="225.66" font-size="7.9" text-anchor="end" fill="#1a1a1a" font-weight="bold" stroke="#1a1a1a" stroke-width="0.3">10</text>
<line x1="399.9" y1="200.64" x2="402.6" y2="200.64" stroke="#3a3a3a" stroke-width="0.8"/>
<text x="398" y="203.34" font-size="7.9" text-anchor="end" fill="#1a1a1a" font-weight="bold" stroke="#1a1a1a" stroke-width="0.3">15</text>
<line x1="399.9" y1="178.32" x2="402.6" y2="178.32" stroke="#3a3a3a" stroke-width="0.8"/>
<text x="398" y="181.02" font-size="7.9" text-anchor="end" fill="#1a1a1a" font-weight="bold" stroke="#1a1a1a" stroke-width="0.3">20</text>
<line x1="399.9" y1="156" x2="402.6" y2="156" stroke="#3a3a3a" stroke-width="0.8"/>
<text x="398" y="158.7" font-size="7.9" text-anchor="end" fill="#1a1a1a" font-weight="bold" stroke="#1a1a1a" stroke-width="0.3">25</text>
<line x1="400.4" y1="256.44" x2="401.7" y2="256.44" stroke="#3a3a3a" stroke-width="0.6"/>
<line x1="400.4" y1="234.12" x2="401.7" y2="234.12" stroke="#3a3a3a" stroke-width="0.6"/>
<line x1="400.4" y1="211.8" x2="401.7" y2="211.8" stroke="#3a3a3a" stroke-width="0.6"/>
<line x1="400.4" y1="189.48" x2="401.7" y2="189.48" stroke="#3a3a3a" stroke-width="0.6"/>
<line x1="400.4" y1="167.16" x2="401.7" y2="167.16" stroke="#3a3a3a" stroke-width="0.6"/>
<text x="0" y="0" font-size="8.3" text-anchor="middle" fill="#1a1a1a" stroke="#1a1a1a" stroke-width="0.3" font-weight="bold" transform="translate(387.6,210.5) rotate(-90)">-<tspan font-style="italic">Z</tspan>'' (10<tspan font-size="5" dy="-3.3">3</tspan><tspan dy="3.3">Ohm.cm</tspan><tspan font-size="5" dy="-3.3">2</tspan><tspan dy="3.3">)</tspan></text>
<defs><radialGradient id="go" cx="0.35" cy="0.35" r="0.7"><stop offset="0" stop-color="#ffd6a0"/><stop offset="0.45" stop-color="#f07a2a"/><stop offset="1" stop-color="#c04a10"/></radialGradient><radialGradient id="gy" cx="0.35" cy="0.35" r="0.7"><stop offset="0" stop-color="#f8f0b0"/><stop offset="0.45" stop-color="#c8b040"/><stop offset="1" stop-color="#8a7a20"/></radialGradient><radialGradient id="gg" cx="0.35" cy="0.35" r="0.7"><stop offset="0" stop-color="#e0f0c0"/><stop offset="0.45" stop-color="#8cac50"/><stop offset="1" stop-color="#5a7a2a"/></radialGradient><radialGradient id="gq" cx="0.35" cy="0.35" r="0.7"><stop offset="0" stop-color="#e0ffd0"/><stop offset="0.45" stop-color="#40b040"/><stop offset="1" stop-color="#208020"/></radialGradient></defs>
<rect x="401" y="239.5" width="111" height="9" fill="#f8fdfc"/>
<circle cx="444.5" cy="246.5" r="2.2" fill="url(#gg)"/>
<circle cx="452.7" cy="244" r="2.2" fill="url(#gg)"/>
<circle cx="467.4" cy="242.7" r="2.2" fill="url(#gg)"/>
<circle cx="480.7" cy="242.3" r="2.2" fill="url(#gg)"/>
<circle cx="485.8" cy="242.7" r="2.2" fill="url(#gg)"/>
<circle cx="497.9" cy="243.1" r="2.2" fill="url(#gg)"/>
<circle cx="437.2" cy="248.7" r="2.2" fill="url(#gg)"/>
<circle cx="429" cy="250.6" r="2.2" fill="url(#gg)"/>
<circle cx="423.5" cy="252.8" r="2.2" fill="url(#gg)"/>
<circle cx="418" cy="254.6" r="2.2" fill="url(#gg)"/>
<circle cx="413.7" cy="256.5" r="2.2" fill="url(#gg)"/>
<circle cx="410" cy="258.3" r="2.2" fill="url(#gg)"/>
<circle cx="406.3" cy="260.2" r="2.2" fill="url(#gg)"/>
<circle cx="403.5" cy="262.4" r="2.2" fill="url(#gg)"/>
<circle cx="401.3" cy="264.8" r="2.2" fill="url(#gg)"/>
<circle cx="400.6" cy="266.5" r="2.2" fill="url(#gg)"/>
<circle cx="471.5" cy="187.2" r="2.2" fill="url(#go)"/>
<circle cx="440.1" cy="200.7" r="2.2" fill="url(#go)"/>
<circle cx="437.2" cy="211.6" r="2.2" fill="url(#go)"/>
<circle cx="425.7" cy="222.3" r="2.2" fill="url(#go)"/>
<circle cx="420.7" cy="230.6" r="2.2" fill="url(#gy)"/>
<circle cx="415" cy="238" r="2.2" fill="url(#gy)"/>
<circle cx="413.1" cy="243.6" r="2.2" fill="url(#gy)"/>
<circle cx="410" cy="247.6" r="2.2" fill="url(#gy)"/>
<circle cx="408.2" cy="251" r="2.2" fill="url(#gy)"/>
<circle cx="406.3" cy="254.3" r="2.2" fill="url(#gy)"/>
<circle cx="404.5" cy="257.4" r="2.2" fill="url(#gy)"/>
<circle cx="402.6" cy="261.1" r="2.2" fill="url(#gy)"/>
<circle cx="400.8" cy="264.8" r="2.2" fill="url(#gy)"/>
<circle cx="491.8" cy="182.3" r="2.2" fill="url(#go)"/>
<circle cx="491.8" cy="191" r="2.2" fill="url(#gq)"/>
<text x="501.5" y="185" font-size="6.9" text-anchor="start" fill="#1a1a1a" font-weight="bold" stroke="#1a1a1a" stroke-width="0.3">CN</text>
<text x="501.5" y="193.7" font-size="6.9" text-anchor="start" fill="#1a1a1a" font-weight="bold" stroke="#1a1a1a" stroke-width="0.3">7-SFO/CN</text>
<text x="371.6" y="160.6" font-size="19" fill="#fff" font-weight="bold" stroke="#fff" stroke-width="2.2">(f)</text>
<text x="371.6" y="160.6" font-size="19" text-anchor="start" fill="#111" font-weight="bold" stroke="#111" stroke-width="0.4">(f)</text>
<rect x="37.3" y="296.1" width="139" height="111.4" fill="none" stroke="#7a7a7a" stroke-width="1.35"/>
<path d="M37.3,296.1 L37.3,407.5 L176.3,407.5" fill="none" stroke="#7a7a7a" stroke-width="1.35"/>
<line x1="42.65" y1="405.3" x2="42.65" y2="408" stroke="#3a3a3a" stroke-width="0.8"/>
<text x="42.65" y="416.2" font-size="8.1" text-anchor="middle" fill="#1a1a1a" font-weight="bold" stroke="#1a1a1a" stroke-width="0.3">400</text>
<line x1="69.38" y1="405.3" x2="69.38" y2="408" stroke="#3a3a3a" stroke-width="0.8"/>
<text x="69.38" y="416.2" font-size="8.1" text-anchor="middle" fill="#1a1a1a" font-weight="bold" stroke="#1a1a1a" stroke-width="0.3">450</text>
<line x1="96.11" y1="405.3" x2="96.11" y2="408" stroke="#3a3a3a" stroke-width="0.8"/>
<text x="96.11" y="416.2" font-size="8.1" text-anchor="middle" fill="#1a1a1a" font-weight="bold" stroke="#1a1a1a" stroke-width="0.3">500</text>
<line x1="122.84" y1="405.3" x2="122.84" y2="408" stroke="#3a3a3a" stroke-width="0.8"/>
<text x="122.84" y="416.2" font-size="8.1" text-anchor="middle" fill="#1a1a1a" font-weight="bold" stroke="#1a1a1a" stroke-width="0.3">550</text>
<line x1="149.57" y1="405.3" x2="149.57" y2="408" stroke="#3a3a3a" stroke-width="0.8"/>
<text x="149.57" y="416.2" font-size="8.1" text-anchor="middle" fill="#1a1a1a" font-weight="bold" stroke="#1a1a1a" stroke-width="0.3">600</text>
<line x1="176.3" y1="405.3" x2="176.3" y2="408" stroke="#3a3a3a" stroke-width="0.8"/>
<text x="176.3" y="416.2" font-size="8.1" text-anchor="middle" fill="#1a1a1a" font-weight="bold" stroke="#1a1a1a" stroke-width="0.3">650</text>
<line x1="56.01" y1="406.2" x2="56.01" y2="407.5" stroke="#3a3a3a" stroke-width="0.6"/>
<line x1="82.74" y1="406.2" x2="82.74" y2="407.5" stroke="#3a3a3a" stroke-width="0.6"/>
<line x1="109.47" y1="406.2" x2="109.47" y2="407.5" stroke="#3a3a3a" stroke-width="0.6"/>
<line x1="136.2" y1="406.2" x2="136.2" y2="407.5" stroke="#3a3a3a" stroke-width="0.6"/>
<line x1="162.93" y1="406.2" x2="162.93" y2="407.5" stroke="#3a3a3a" stroke-width="0.6"/>
<text x="106.8" y="425.5" font-size="7.9" text-anchor="middle" fill="#1a1a1a" font-weight="bold" stroke="#1a1a1a" stroke-width="0.3">Wavelength (nm)</text>
<text x="0" y="0" font-size="8.1" text-anchor="middle" fill="#1a1a1a" stroke="#1a1a1a" stroke-width="0.3" font-weight="bold" transform="translate(30.5,352) rotate(-90)">Intensity (arb.units)</text>
<path d="M37.3,395.1 L46.2,394.6 L49.7,392.3 L53.2,385.4 L56.6,369.2 L60.1,346.2 L62.4,325.4 L64.7,316.2 L65.5,314.5 L67,315.5 L68.2,314 L69.3,317.3 L71.6,314.3 L73.5,311.5 L75.1,309.2 L77.4,307.6 L79,308.5 L80.8,309.2 L84.3,314.3" fill="none" stroke="#c8b820" stroke-width="1.25" stroke-linejoin="round" stroke-linecap="round" />
<path d="M84.3,314.3 C84.92,316.42 86.65,321.8 88,327 C89.35,332.2 90.7,340.42 92.4,345.5 C94.1,350.58 96.27,353.92 98.2,357.5 C100.13,361.08 101.12,363.3 104,367 C106.88,370.7 111.47,376.43 115.5,379.7 C119.53,382.97 124.62,384.83 128.2,386.6 C131.78,388.37 133.22,389.15 137,390.3 C140.78,391.45 144.4,392.65 150.9,393.5 C157.4,394.35 171.82,395.08 176,395.4" fill="none" stroke="#c8b820" stroke-width="1.25" stroke-linejoin="round" stroke-linecap="round" />
<path d="M37.3,395.1 C39.17,394.83 45.67,394.53 48.5,393.5 C51.33,392.47 52.57,391.22 54.3,388.9 C56.03,386.58 57.55,382.3 58.9,379.6 C60.25,376.9 61.25,374.32 62.4,372.7 C63.55,371.08 64.87,370.27 65.8,369.9 C66.73,369.53 67.03,370.15 68,370.5 C68.97,370.85 70.52,371.78 71.6,372 C72.68,372.22 73.53,372.07 74.5,371.8 C75.47,371.53 75.95,370.37 77.4,370.4 C78.85,370.43 81.08,371.03 83.2,372 C85.32,372.97 87.88,374.67 90.1,376.2 C92.32,377.73 94.85,380.03 96.5,381.2 C98.15,382.37 97.6,381.82 100,383.2 C102.4,384.58 106.97,387.98 110.9,389.5 C114.83,391.02 117.83,391.45 123.6,392.3 C129.37,393.15 136.77,394.08 145.5,394.6 C154.23,395.12 170.92,395.27 176,395.4" fill="none" stroke="#6a9a48" stroke-width="1.2" stroke-linejoin="round" stroke-linecap="round" />
<line x1="120" y1="322.6" x2="136.4" y2="322.6" stroke="#c8b820" stroke-width="1.4"/>
<line x1="120" y1="330.5" x2="136.4" y2="330.5" stroke="#6a9a48" stroke-width="1.4"/>
<text x="137.5" y="325.2" font-size="6.9" text-anchor="start" fill="#1a1a1a" font-weight="bold" stroke="#1a1a1a" stroke-width="0.3">CN</text>
<text x="137.5" y="333.1" font-size="6.9" text-anchor="start" fill="#1a1a1a" font-weight="bold" stroke="#1a1a1a" stroke-width="0.3">7-SFO/CN</text>
<text x="8" y="300.5" font-size="19" fill="#fff" font-weight="bold" stroke="#fff" stroke-width="2.2">(g)</text>
<text x="8" y="300.5" font-size="19" text-anchor="start" fill="#111" font-weight="bold" stroke="#111" stroke-width="0.4">(g)</text>
<rect x="219" y="296.8" width="48.4" height="110.4" fill="#f4f4f4"/>
<rect x="324" y="296.8" width="34" height="9" fill="#fdf0f2"/>
<rect x="219.4" y="296.1" width="139" height="111.4" fill="none" stroke="#7a7a7a" stroke-width="1.35"/>
<path d="M219.4,296.1 L219.4,407.5 L358.4,407.5" fill="none" stroke="#7a7a7a" stroke-width="1.35"/>
<line x1="240.25" y1="405.3" x2="240.25" y2="408" stroke="#3a3a3a" stroke-width="0.8"/>
<text x="240.25" y="416.2" font-size="8.1" text-anchor="middle" fill="#1a1a1a" font-weight="bold" stroke="#1a1a1a" stroke-width="0.3">-20</text>
<line x1="268.05" y1="405.3" x2="268.05" y2="408" stroke="#3a3a3a" stroke-width="0.8"/>
<text x="268.05" y="416.2" font-size="8.1" text-anchor="middle" fill="#1a1a1a" font-weight="bold" stroke="#1a1a1a" stroke-width="0.3">0</text>
<line x1="295.85" y1="405.3" x2="295.85" y2="408" stroke="#3a3a3a" stroke-width="0.8"/>
<text x="295.85" y="416.2" font-size="8.1" text-anchor="middle" fill="#1a1a1a" font-weight="bold" stroke="#1a1a1a" stroke-width="0.3">20</text>
<line x1="323.65" y1="405.3" x2="323.65" y2="408" stroke="#3a3a3a" stroke-width="0.8"/>
<text x="323.65" y="416.2" font-size="8.1" text-anchor="middle" fill="#1a1a1a" font-weight="bold" stroke="#1a1a1a" stroke-width="0.3">40</text>
<line x1="351.45" y1="405.3" x2="351.45" y2="408" stroke="#3a3a3a" stroke-width="0.8"/>
<text x="351.45" y="416.2" font-size="8.1" text-anchor="middle" fill="#1a1a1a" font-weight="bold" stroke="#1a1a1a" stroke-width="0.3">60</text>
<line x1="226.35" y1="406.2" x2="226.35" y2="407.5" stroke="#3a3a3a" stroke-width="0.6"/>
<line x1="254.15" y1="406.2" x2="254.15" y2="407.5" stroke="#3a3a3a" stroke-width="0.6"/>
<line x1="281.95" y1="406.2" x2="281.95" y2="407.5" stroke="#3a3a3a" stroke-width="0.6"/>
<line x1="309.75" y1="406.2" x2="309.75" y2="407.5" stroke="#3a3a3a" stroke-width="0.6"/>
<line x1="337.55" y1="406.2" x2="337.55" y2="407.5" stroke="#3a3a3a" stroke-width="0.6"/>
<line x1="218.9" y1="407.5" x2="221.6" y2="407.5" stroke="#3a3a3a" stroke-width="0.8"/>
<text x="217" y="410.2" font-size="7.9" text-anchor="end" fill="#1a1a1a" font-weight="bold" stroke="#1a1a1a" stroke-width="0.3">0.0</text>
<line x1="218.9" y1="387.23" x2="221.6" y2="387.23" stroke="#3a3a3a" stroke-width="0.8"/>
<text x="217" y="389.93" font-size="7.9" text-anchor="end" fill="#1a1a1a" font-weight="bold" stroke="#1a1a1a" stroke-width="0.3">0.2</text>
<line x1="218.9" y1="366.95" x2="221.6" y2="366.95" stroke="#3a3a3a" stroke-width="0.8"/>
<text x="217" y="369.65" font-size="7.9" text-anchor="end" fill="#1a1a1a" font-weight="bold" stroke="#1a1a1a" stroke-width="0.3">0.4</text>
<line x1="218.9" y1="346.68" x2="221.6" y2="346.68" stroke="#3a3a3a" stroke-width="0.8"/>
<text x="217" y="349.38" font-size="7.9" text-anchor="end" fill="#1a1a1a" font-weight="bold" stroke="#1a1a1a" stroke-width="0.3">0.6</text>
<line x1="218.9" y1="326.41" x2="221.6" y2="326.41" stroke="#3a3a3a" stroke-width="0.8"/>
<text x="217" y="329.11" font-size="7.9" text-anchor="end" fill="#1a1a1a" font-weight="bold" stroke="#1a1a1a" stroke-width="0.3">0.8</text>
<line x1="218.9" y1="306.14" x2="221.6" y2="306.14" stroke="#3a3a3a" stroke-width="0.8"/>
<text x="217" y="308.84" font-size="7.9" text-anchor="end" fill="#1a1a1a" font-weight="bold" stroke="#1a1a1a" stroke-width="0.3">1.0</text>
<line x1="219.4" y1="397.36" x2="220.7" y2="397.36" stroke="#3a3a3a" stroke-width="0.6"/>
<line x1="219.4" y1="377.09" x2="220.7" y2="377.09" stroke="#3a3a3a" stroke-width="0.6"/>
<line x1="219.4" y1="356.82" x2="220.7" y2="356.82" stroke="#3a3a3a" stroke-width="0.6"/>
<line x1="219.4" y1="336.54" x2="220.7" y2="336.54" stroke="#3a3a3a" stroke-width="0.6"/>
<line x1="219.4" y1="316.27" x2="220.7" y2="316.27" stroke="#3a3a3a" stroke-width="0.6"/>
<text x="288.5" y="425" font-size="7.9" text-anchor="middle" fill="#1a1a1a" font-weight="bold" stroke="#1a1a1a" stroke-width="0.3">Time (min)</text>
<text x="0" y="0" font-size="8.3" text-anchor="middle" fill="#1a1a1a" stroke="#1a1a1a" stroke-width="0.3" font-weight="bold" transform="translate(202.5,351.7) rotate(-90)">C<tspan font-size="5" dy="2">t</tspan><tspan dy="-2">/C</tspan><tspan font-size="5" dy="2">0</tspan></text>
<text x="247.3" y="303.6" font-size="6.9" text-anchor="middle" fill="#1a1a1a" font-weight="bold" stroke="#1a1a1a" stroke-width="0.3">Dark</text>
<text x="267.5" y="303.4" font-size="6.9" text-anchor="start" fill="#1a1a1a" font-weight="bold" stroke="#1a1a1a" stroke-width="0.3">Light on</text>
<text x="357.5" y="303.4" font-size="6.9" text-anchor="end" fill="#b03a3a" font-weight="bold" stroke="#b03a3a" stroke-width="0.3">Quenchers</text>
<path d="M226.35,306.14 L268.05,310.19" fill="none" stroke="#a8a8ec" stroke-width="1.3"/>
<path d="M268.05,310.19 L281.95,326.91 L295.85,344.25 L309.75,357.53 L323.65,367.26 L337.55,373.04 L351.45,377.5" fill="none" stroke="#e0c070" stroke-width="0.9"/>
<path d="M268.05,310.19 L281.95,317.49 L295.85,327.42 L309.75,334.01 L323.65,340.9 L337.55,347.09 L351.45,350.43" fill="none" stroke="#a8cc90" stroke-width="0.9"/>
<path d="M268.05,310.19 L281.95,329.04 L295.85,348.71 L309.75,359.86 L323.65,368.37 L337.55,377.09 L351.45,381.15" fill="none" stroke="#b0a0e8" stroke-width="0.9"/>
<path d="M268.05,310.19 L281.95,339.38 L295.85,363.61 L309.75,378.41 L323.65,387.23 L337.55,393.92 L351.45,398.38" fill="none" stroke="#8c8cf0" stroke-width="0.9"/>
<rect x="279.91" y="324.87" width="4.08" height="4.08" fill="#e8dc90" stroke="#c8b040" stroke-width="0.9"/>
<rect x="293.81" y="342.21" width="4.08" height="4.08" fill="#c8b040" stroke="#c8b040" stroke-width="0.9"/>
<rect x="307.71" y="355.49" width="4.08" height="4.08" fill="#c8b040" stroke="#c8b040" stroke-width="0.9"/>
<rect x="321.61" y="365.22" width="4.08" height="4.08" fill="#c8b040" stroke="#c8b040" stroke-width="0.9"/>
<rect x="335.51" y="371" width="4.08" height="4.08" fill="#c8b040" stroke="#c8b040" stroke-width="0.9"/>
<rect x="349.41" y="375.46" width="4.08" height="4.08" fill="#c8b040" stroke="#c8b040" stroke-width="0.9"/>
<circle cx="281.95" cy="317.49" r="2.4" fill="#d4e8c0" stroke="#8ab060" stroke-width="0.9"/>
<circle cx="295.85" cy="327.42" r="2.4" fill="#d4e8c0" stroke="#8ab060" stroke-width="0.9"/>
<circle cx="309.75" cy="334.01" r="2.4" fill="#d4e8c0" stroke="#8ab060" stroke-width="0.9"/>
<circle cx="323.65" cy="340.9" r="2.4" fill="#d4e8c0" stroke="#8ab060" stroke-width="0.9"/>
<circle cx="337.55" cy="347.09" r="2.4" fill="#d4e8c0" stroke="#8ab060" stroke-width="0.9"/>
<circle cx="351.45" cy="350.43" r="2.4" fill="#b0cc90" stroke="#8ab060" stroke-width="0.9"/>
<path d="M281.95,326.4 L284.35,330.84 L279.55,330.84 Z" fill="#c8c0f0" stroke="#8878d0" stroke-width="0.9"/>
<path d="M295.85,346.07 L298.25,350.51 L293.45,350.51 Z" fill="#8878d0" stroke="#8878d0" stroke-width="0.9"/>
<path d="M309.75,357.22 L312.15,361.66 L307.35,361.66 Z" fill="#8878d0" stroke="#8878d0" stroke-width="0.9"/>
<path d="M323.65,365.73 L326.05,370.17 L321.25,370.17 Z" fill="#8878d0" stroke="#8878d0" stroke-width="0.9"/>
<path d="M337.55,374.45 L339.95,378.89 L335.15,378.89 Z" fill="#8878d0" stroke="#8878d0" stroke-width="0.9"/>
<path d="M351.45,378.51 L353.85,382.95 L349.05,382.95 Z" fill="#8878d0" stroke="#8878d0" stroke-width="0.9"/>
<path d="M281.95,342.02 L284.35,337.58 L279.55,337.58 Z" fill="#ffffff" stroke="#6a6ae0" stroke-width="0.9"/>
<path d="M295.85,366.25 L298.25,361.81 L293.45,361.81 Z" fill="#ffffff" stroke="#6a6ae0" stroke-width="0.9"/>
<path d="M309.75,381.05 L312.15,376.61 L307.35,376.61 Z" fill="#ffffff" stroke="#6a6ae0" stroke-width="0.9"/>
<path d="M323.65,389.87 L326.05,385.43 L321.25,385.43 Z" fill="#ffffff" stroke="#6a6ae0" stroke-width="0.9"/>
<path d="M337.55,396.56 L339.95,392.12 L335.15,392.12 Z" fill="#6a6ae0" stroke="#6a6ae0" stroke-width="0.9"/>
<path d="M351.45,401.02 L353.85,396.58 L349.05,396.58 Z" fill="#6a6ae0" stroke="#6a6ae0" stroke-width="0.9"/>
<path d="M226.35,303.84 L224.36,304.99 L224.36,307.29 L226.35,308.44 L228.34,307.29 L228.34,304.99Z" fill="#ffffff" stroke="#6a6ae0" stroke-width="1.3"/>
<path d="M268.05,307.79 L265.97,308.99 L265.97,311.39 L268.05,312.59 L270.13,311.39 L270.13,308.99Z" fill="#8080e8" stroke="#6a6ae0" stroke-width="1.0"/>
<line x1="225.5" y1="349.2" x2="240" y2="349.2" stroke="#e0c070" stroke-width="0.9"/>
<rect x="231" y="347.5" width="3.4" height="3.4" fill="#fff" stroke="#c8b040" stroke-width="0.9"/>
<text x="242.7" y="351.9" font-size="7.3" text-anchor="start" fill="#1a1a1a" font-weight="bold" stroke="#1a1a1a" stroke-width="0.3">KI</text>
<line x1="225.5" y1="358.1" x2="240" y2="358.1" stroke="#a8cc90" stroke-width="0.9"/>
<circle cx="232.7" cy="358.1" r="2" fill="#fff" stroke="#8ab060" stroke-width="0.9"/>
<text x="242.7" y="360.8" font-size="7.3" text-anchor="start" fill="#1a1a1a" font-weight="bold" stroke="#1a1a1a" stroke-width="0.3">BuOH</text>
<line x1="225.5" y1="367" x2="240" y2="367" stroke="#b0a0e8" stroke-width="0.9"/>
<path d="M232.7,364.8 L234.7,368.5 L230.7,368.5 Z" fill="#fff" stroke="#8878d0" stroke-width="0.9"/>
<text x="242.7" y="369.7" font-size="7.3" text-anchor="start" fill="#1a1a1a" font-weight="bold" stroke="#1a1a1a" stroke-width="0.3">BQ</text>
<line x1="225.5" y1="375.9" x2="240" y2="375.9" stroke="#8c8cf0" stroke-width="0.9"/>
<path d="M232.7,378.1 L234.7,374.4 L230.7,374.4 Z" fill="#fff" stroke="#6a6ae0" stroke-width="0.9"/>
<text x="242.7" y="378.6" font-size="7.3" text-anchor="start" fill="#1a1a1a" font-weight="bold" stroke="#1a1a1a" stroke-width="0.3">Blank</text>
<text x="189.6" y="300.5" font-size="19" fill="#fff" font-weight="bold" stroke="#fff" stroke-width="2.2">(h)</text>
<text x="189.6" y="300.5" font-size="19" text-anchor="start" fill="#111" font-weight="bold" stroke="#111" stroke-width="0.4">(h)</text>
<rect x="400.4" y="296.1" width="140" height="111.4" fill="none" stroke="#7a7a7a" stroke-width="1.35"/>
<path d="M400.4,296.1 L400.4,407.5 L540.4,407.5" fill="none" stroke="#7a7a7a" stroke-width="1.35"/>
<line x1="410.83" y1="405.3" x2="410.83" y2="408" stroke="#3a3a3a" stroke-width="0.8"/>
<text x="410.83" y="416.2" font-size="8.1" text-anchor="middle" fill="#1a1a1a" font-weight="bold" stroke="#1a1a1a" stroke-width="0.3">0</text>
<line x1="430.71" y1="405.3" x2="430.71" y2="408" stroke="#3a3a3a" stroke-width="0.8"/>
<text x="430.71" y="416.2" font-size="8.1" text-anchor="middle" fill="#1a1a1a" font-weight="bold" stroke="#1a1a1a" stroke-width="0.3">10</text>
<line x1="450.58" y1="405.3" x2="450.58" y2="408" stroke="#3a3a3a" stroke-width="0.8"/>
<text x="450.58" y="416.2" font-size="8.1" text-anchor="middle" fill="#1a1a1a" font-weight="bold" stroke="#1a1a1a" stroke-width="0.3">20</text>
<line x1="470.45" y1="405.3" x2="470.45" y2="408" stroke="#3a3a3a" stroke-width="0.8"/>
<text x="470.45" y="416.2" font-size="8.1" text-anchor="middle" fill="#1a1a1a" font-weight="bold" stroke="#1a1a1a" stroke-width="0.3">30</text>
<line x1="490.32" y1="405.3" x2="490.32" y2="408" stroke="#3a3a3a" stroke-width="0.8"/>
<text x="490.32" y="416.2" font-size="8.1" text-anchor="middle" fill="#1a1a1a" font-weight="bold" stroke="#1a1a1a" stroke-width="0.3">40</text>
<line x1="510.19" y1="405.3" x2="510.19" y2="408" stroke="#3a3a3a" stroke-width="0.8"/>
<text x="510.19" y="416.2" font-size="8.1" text-anchor="middle" fill="#1a1a1a" font-weight="bold" stroke="#1a1a1a" stroke-width="0.3">50</text>
<line x1="530.07" y1="405.3" x2="530.07" y2="408" stroke="#3a3a3a" stroke-width="0.8"/>
<text x="530.07" y="416.2" font-size="8.1" text-anchor="middle" fill="#1a1a1a" font-weight="bold" stroke="#1a1a1a" stroke-width="0.3">60</text>
<line x1="420.77" y1="406.2" x2="420.77" y2="407.5" stroke="#3a3a3a" stroke-width="0.6"/>
<line x1="440.64" y1="406.2" x2="440.64" y2="407.5" stroke="#3a3a3a" stroke-width="0.6"/>
<line x1="460.51" y1="406.2" x2="460.51" y2="407.5" stroke="#3a3a3a" stroke-width="0.6"/>
<line x1="480.39" y1="406.2" x2="480.39" y2="407.5" stroke="#3a3a3a" stroke-width="0.6"/>
<line x1="500.26" y1="406.2" x2="500.26" y2="407.5" stroke="#3a3a3a" stroke-width="0.6"/>
<line x1="520.13" y1="406.2" x2="520.13" y2="407.5" stroke="#3a3a3a" stroke-width="0.6"/>
<line x1="399.9" y1="312.35" x2="402.6" y2="312.35" stroke="#3a3a3a" stroke-width="0.8"/>
<text x="398" y="315.05" font-size="7.9" text-anchor="end" fill="#1a1a1a" font-weight="bold" stroke="#1a1a1a" stroke-width="0.3">0.0</text>
<line x1="399.9" y1="329.63" x2="402.6" y2="329.63" stroke="#3a3a3a" stroke-width="0.8"/>
<text x="398" y="332.33" font-size="7.9" text-anchor="end" fill="#1a1a1a" font-weight="bold" stroke="#1a1a1a" stroke-width="0.3">-0.5</text>
<line x1="399.9" y1="346.91" x2="402.6" y2="346.91" stroke="#3a3a3a" stroke-width="0.8"/>
<text x="398" y="349.61" font-size="7.9" text-anchor="end" fill="#1a1a1a" font-weight="bold" stroke="#1a1a1a" stroke-width="0.3">-1.0</text>
<line x1="399.9" y1="364.19" x2="402.6" y2="364.19" stroke="#3a3a3a" stroke-width="0.8"/>
<text x="398" y="366.89" font-size="7.9" text-anchor="end" fill="#1a1a1a" font-weight="bold" stroke="#1a1a1a" stroke-width="0.3">-1.5</text>
<line x1="399.9" y1="381.47" x2="402.6" y2="381.47" stroke="#3a3a3a" stroke-width="0.8"/>
<text x="398" y="384.17" font-size="7.9" text-anchor="end" fill="#1a1a1a" font-weight="bold" stroke="#1a1a1a" stroke-width="0.3">-2.0</text>
<line x1="399.9" y1="398.76" x2="402.6" y2="398.76" stroke="#3a3a3a" stroke-width="0.8"/>
<text x="398" y="401.46" font-size="7.9" text-anchor="end" fill="#1a1a1a" font-weight="bold" stroke="#1a1a1a" stroke-width="0.3">-2.5</text>
<line x1="400.4" y1="303.7" x2="401.7" y2="303.7" stroke="#3a3a3a" stroke-width="0.6"/>
<line x1="400.4" y1="320.99" x2="401.7" y2="320.99" stroke="#3a3a3a" stroke-width="0.6"/>
<line x1="400.4" y1="338.27" x2="401.7" y2="338.27" stroke="#3a3a3a" stroke-width="0.6"/>
<line x1="400.4" y1="355.55" x2="401.7" y2="355.55" stroke="#3a3a3a" stroke-width="0.6"/>
<line x1="400.4" y1="372.83" x2="401.7" y2="372.83" stroke="#3a3a3a" stroke-width="0.6"/>
<line x1="400.4" y1="390.11" x2="401.7" y2="390.11" stroke="#3a3a3a" stroke-width="0.6"/>
<text x="470.5" y="425" font-size="7.9" text-anchor="middle" fill="#1a1a1a" font-weight="bold" stroke="#1a1a1a" stroke-width="0.3">Time (min)</text>
<text x="0" y="0" font-size="8.1" text-anchor="middle" fill="#1a1a1a" stroke="#1a1a1a" stroke-width="0.3" font-weight="bold" transform="translate(382,351.2) rotate(-90)">ln(C<tspan font-size="5" dy="2">t</tspan><tspan dy="-2">/C</tspan><tspan font-size="5" dy="2">0</tspan><tspan dy="-2">)</tspan></text>
<defs>
<radialGradient id="gki" cx="0.4" cy="0.35" r="0.7"><stop offset="0" stop-color="#ffffff"/><stop offset="0.5" stop-color="#c8b030"/><stop offset="1" stop-color="#c8b030"/></radialGradient>
<radialGradient id="gbu" cx="0.4" cy="0.35" r="0.7"><stop offset="0" stop-color="#ffffff"/><stop offset="0.5" stop-color="#78a848"/><stop offset="1" stop-color="#78a848"/></radialGradient>
<radialGradient id="gbq" cx="0.4" cy="0.35" r="0.7"><stop offset="0" stop-color="#ffffff"/><stop offset="0.5" stop-color="#8a5ac0"/><stop offset="1" stop-color="#8a5ac0"/></radialGradient>
<radialGradient id="gbl" cx="0.4" cy="0.35" r="0.7"><stop offset="0" stop-color="#ffffff"/><stop offset="0.5" stop-color="#4a5ae0"/><stop offset="1" stop-color="#4a5ae0"/></radialGradient>
</defs>
<line x1="410.83" y1="312.35" x2="530.07" y2="355.48" stroke="#c8b030" stroke-width="1.2"/>
<line x1="410.83" y1="312.35" x2="530.07" y2="332.67" stroke="#78a848" stroke-width="1.2"/>
<line x1="410.83" y1="312.35" x2="530.07" y2="359.63" stroke="#8a5ac0" stroke-width="1.2"/>
<line x1="410.83" y1="312.35" x2="530.07" y2="394.88" stroke="#4a5ae0" stroke-width="1.2"/>
<circle cx="410.83" cy="312.35" r="2.5" fill="url(#gki)" stroke="#c8b030" stroke-width="0.5"/>
<circle cx="430.71" cy="320.99" r="2.5" fill="url(#gki)" stroke="#c8b030" stroke-width="0.5"/>
<circle cx="450.58" cy="328.94" r="2.5" fill="url(#gki)" stroke="#c8b030" stroke-width="0.5"/>
<circle cx="470.45" cy="337.23" r="2.5" fill="url(#gki)" stroke="#c8b030" stroke-width="0.5"/>
<circle cx="490.32" cy="344.14" r="2.5" fill="url(#gki)" stroke="#c8b030" stroke-width="0.5"/>
<circle cx="510.19" cy="349.67" r="2.5" fill="url(#gki)" stroke="#c8b030" stroke-width="0.5"/>
<circle cx="530.07" cy="354.34" r="2.5" fill="url(#gki)" stroke="#c8b030" stroke-width="0.5"/>
<circle cx="410.83" cy="312.35" r="2.5" fill="url(#gbu)" stroke="#78a848" stroke-width="0.5"/>
<circle cx="430.71" cy="316.49" r="2.5" fill="url(#gbu)" stroke="#78a848" stroke-width="0.5"/>
<circle cx="450.58" cy="320.74" r="2.5" fill="url(#gbu)" stroke="#78a848" stroke-width="0.5"/>
<circle cx="470.45" cy="323.75" r="2.5" fill="url(#gbu)" stroke="#78a848" stroke-width="0.5"/>
<circle cx="490.32" cy="327.35" r="2.5" fill="url(#gbu)" stroke="#78a848" stroke-width="0.5"/>
<circle cx="510.19" cy="330.32" r="2.5" fill="url(#gbu)" stroke="#78a848" stroke-width="0.5"/>
<circle cx="530.07" cy="332.57" r="2.5" fill="url(#gbu)" stroke="#78a848" stroke-width="0.5"/>
<circle cx="410.83" cy="312.35" r="2.5" fill="url(#gbq)" stroke="#8a5ac0" stroke-width="0.5"/>
<circle cx="430.71" cy="321.68" r="2.5" fill="url(#gbq)" stroke="#8a5ac0" stroke-width="0.5"/>
<circle cx="450.58" cy="331.53" r="2.5" fill="url(#gbq)" stroke="#8a5ac0" stroke-width="0.5"/>
<circle cx="470.45" cy="338.44" r="2.5" fill="url(#gbq)" stroke="#8a5ac0" stroke-width="0.5"/>
<circle cx="490.32" cy="345.73" r="2.5" fill="url(#gbq)" stroke="#8a5ac0" stroke-width="0.5"/>
<circle cx="510.19" cy="353.82" r="2.5" fill="url(#gbq)" stroke="#8a5ac0" stroke-width="0.5"/>
<circle cx="530.07" cy="359.35" r="2.5" fill="url(#gbq)" stroke="#8a5ac0" stroke-width="0.5"/>
<circle cx="410.83" cy="312.35" r="2.5" fill="url(#gbl)" stroke="#4a5ae0" stroke-width="0.5"/>
<circle cx="430.71" cy="326.17" r="2.5" fill="url(#gbl)" stroke="#4a5ae0" stroke-width="0.5"/>
<circle cx="450.58" cy="341.21" r="2.5" fill="url(#gbl)" stroke="#4a5ae0" stroke-width="0.5"/>
<circle cx="470.45" cy="355.72" r="2.5" fill="url(#gbl)" stroke="#4a5ae0" stroke-width="0.5"/>
<circle cx="490.32" cy="366.61" r="2.5" fill="url(#gbl)" stroke="#4a5ae0" stroke-width="0.5"/>
<circle cx="510.19" cy="381.47" r="2.5" fill="url(#gbl)" stroke="#4a5ae0" stroke-width="0.5"/>
<circle cx="530.07" cy="395.64" r="2.5" fill="url(#gbl)" stroke="#4a5ae0" stroke-width="0.5"/>
<circle cx="412.2" cy="369.5" r="2.5" fill="url(#gki)"/>
<text x="421.8" y="372.1" font-size="6.9" text-anchor="start" fill="#1a1a1a" font-weight="bold" stroke="#1a1a1a" stroke-width="0.3">KI</text>
<circle cx="412.2" cy="378.17" r="2.5" fill="url(#gbu)"/>
<text x="421.8" y="380.77" font-size="6.9" text-anchor="start" fill="#1a1a1a" font-weight="bold" stroke="#1a1a1a" stroke-width="0.3">t-BuOH</text>
<circle cx="412.2" cy="386.84" r="2.5" fill="url(#gbq)"/>
<text x="421.8" y="389.44" font-size="6.9" text-anchor="start" fill="#1a1a1a" font-weight="bold" stroke="#1a1a1a" stroke-width="0.3">BQ</text>
<circle cx="412.2" cy="395.51" r="2.5" fill="url(#gbl)"/>
<text x="421.8" y="398.11" font-size="6.9" text-anchor="start" fill="#1a1a1a" font-weight="bold" stroke="#1a1a1a" stroke-width="0.3">Blank</text>
<text x="433" y="303.3" font-size="7.1" fill="#78a848" font-weight="bold"><tspan font-style="italic">k</tspan><tspan font-size="3.9" dy="1.5">obs</tspan><tspan dy="-1.5">=0.0098 min</tspan><tspan font-size="3.9" dy="-3.2">-1</tspan></text>
<text x="433" y="314.3" font-size="7.1" fill="#78a848" font-weight="bold">R<tspan font-size="3.9" dy="-3.2">2</tspan><tspan dy="3.2">=0.9930</tspan></text>
<text x="481.8" y="310.8" font-size="7.1" fill="#c8b030" font-weight="bold"><tspan font-style="italic">k</tspan><tspan font-size="3.9" dy="1.5">obs</tspan><tspan dy="-1.5">=0.0208 min</tspan><tspan font-size="3.9" dy="-3.2">-1</tspan></text>
<text x="481.8" y="321.8" font-size="7.1" fill="#c8b030" font-weight="bold">R<tspan font-size="3.9" dy="-3.2">2</tspan><tspan dy="3.2">=0.9914</tspan></text>
<text x="406.8" y="349.8" font-size="7.1" fill="#4a5ae0" font-weight="bold"><tspan font-style="italic">k</tspan><tspan font-size="3.9" dy="1.5">obs</tspan><tspan dy="-1.5">=0.0398 min</tspan><tspan font-size="3.9" dy="-3.2">-1</tspan></text>
<text x="406.8" y="360.8" font-size="7.1" fill="#4a5ae0" font-weight="bold">R<tspan font-size="3.9" dy="-3.2">2</tspan><tspan dy="3.2">=0.9998</tspan></text>
<text x="451.8" y="387.5" font-size="7.1" fill="#8a5ac0" font-weight="bold"><tspan font-style="italic">k</tspan><tspan font-size="3.9" dy="1.5">obs</tspan><tspan dy="-1.5">=0.0228 min</tspan><tspan font-size="3.9" dy="-3.2">-1</tspan></text>
<text x="451.8" y="398.5" font-size="7.1" fill="#8a5ac0" font-weight="bold">R<tspan font-size="3.9" dy="-3.2">2</tspan><tspan dy="3.2">=0.9932</tspan></text>
<text x="371.6" y="300.5" font-size="19" fill="#fff" font-weight="bold" stroke="#fff" stroke-width="2.2">(i)</text>
<text x="371.6" y="300.5" font-size="19" text-anchor="start" fill="#111" font-weight="bold" stroke="#111" stroke-width="0.4">(i)</text>
</svg></body></html>
